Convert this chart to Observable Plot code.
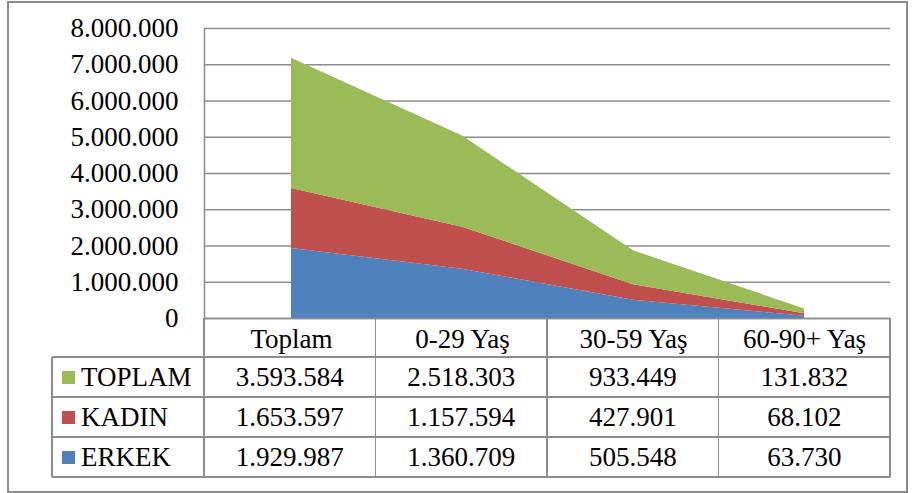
<!DOCTYPE html>
<html>
<head>
<meta charset="utf-8">
<script src="https://cdn.jsdelivr.net/npm/d3@7"></script>
<script src="https://cdn.jsdelivr.net/npm/@observablehq/plot@0.6"></script>
<style>
  html, body { margin: 0; padding: 0; background: #fff; }
  #wrap { position: relative; width: 913px; height: 493px; overflow: hidden; font-family: 'Liberation Serif'; }
  #outer { position: absolute; left: 7px; top: 1px; width: 897px; height: 488px; border: 2px solid #8c8c8c; box-sizing: content-box; }
  .hl, .vl { position: absolute; background: #8c8c8c; }
  .cell { position: absolute; display: flex; align-items: center; justify-content: center; font-size: 27px; color: #000; white-space: nowrap; font-family: 'Liberation Serif'; }
  .leg { justify-content: flex-start; }
  .sw { display: inline-block; width: 13px; height: 13px; margin-right: 6px; margin-left: 10px; }
  #chart { position: absolute; left: 0; top: 0; }
</style>
</head>
<body>
<div id="wrap">
<div id="outer"></div>
<script>
// ---- data ----
const categories = ["Toplam", "0-29 Yaş", "30-59 Yaş", "60-90+ Yaş"];
const tableSeries = ["TOPLAM", "KADIN", "ERKEK"];      // table row order
const stackOrder = ["ERKEK", "KADIN", "TOPLAM"];       // bottom to top
const toplamValues = [3593584, 2518303, 933449, 131832];
const kadinValues  = [1653597, 1157594, 427901, 68102];
const erkekValues  = [1929987, 1360709, 505548, 63730];
const yTicks = [0, 1000000, 2000000, 3000000, 4000000, 5000000, 6000000, 7000000, 8000000];
const seriesColors = ["#4F81BD", "#C0504D", "#9BBB59"]; // ERKEK, KADIN, TOPLAM

const valuesBySeries = { TOPLAM: toplamValues, KADIN: kadinValues, ERKEK: erkekValues };
const colorBySeries = { ERKEK: seriesColors[0], KADIN: seriesColors[1], TOPLAM: seriesColors[2] };

const rows = [];
for (const s of stackOrder) {
  categories.forEach((c, i) => rows.push({ series: s, category: c, value: valuesBySeries[s][i] }));
}

const locale = d3.formatLocale({ decimal: ",", thousands: ".", grouping: [3], currency: ["", ""] });
const fmt = locale.format(",d");

// ---- layout ----
const W = 913, H = 493;
const mLeft = 204, mRight = 23, mTop = 28, mBottom = 175;
const gridColor = "#8c8c8c";
const serif = "Liberation Serif";

const plot = Plot.plot({
  width: W, height: H,
  marginLeft: mLeft, marginRight: mRight, marginTop: mTop, marginBottom: mBottom,
  style: { background: "transparent", fontFamily: serif, fontSize: "27px", color: "#000", overflow: "visible" },
  x: { type: "point", domain: categories, padding: 0.5 },
  y: { domain: [0, 8000000] },
  color: { domain: stackOrder, range: seriesColors },
  marks: [
    Plot.gridY(yTicks, { stroke: gridColor, strokeOpacity: 1, strokeWidth: 1.5 }),
    Plot.areaY(rows, { x: "category", y: "value", z: "series", fill: "series", order: stackOrder, curve: "linear" }),
    Plot.axisY(yTicks, { tickSize: 0, tickPadding: 26, tickFormat: fmt, fontSize: 27, fontFamily: serif, label: null }),
    Plot.axisX({ tickSize: 0, tickPadding: 10, fontSize: 27, fontFamily: serif, label: null }),
    Plot.ruleY([0], { stroke: gridColor, strokeWidth: 1.5 }),
    Plot.frame({ anchor: "left", stroke: gridColor, strokeWidth: 1.5 })
  ]
});

// ---- data table under the axis (legend + values) ----
const plotRight = W - mRight;
const step = (plotRight - mLeft) / categories.length;
const bounds = [52, mLeft];
for (let i = 1; i <= categories.length; i++) bounds.push(mLeft + i * step);
const y0 = H - mBottom;            // axis line = table top
const headerH = 39, rowH = 40;
const rowTops = [y0 + headerH, y0 + headerH + rowH, y0 + headerH + 2 * rowH];
const tableBottom = y0 + headerH + 3 * rowH;
const lw = 1.5;

let html = "";
function add(cls, css, content) {
  const st = Object.entries(css).map(([k, v]) => `${k}:${v}`).join(";");
  html += `<div class="${cls}" style="${st}">${content || ""}</div>`;
}
[y0 + headerH, ...rowTops.slice(1), tableBottom].forEach(y => {
  add("hl", { left: bounds[0] + "px", top: (y - lw / 2) + "px", width: (bounds[bounds.length - 1] - bounds[0]) + "px", height: lw + "px" });
});
bounds.forEach((x, i) => {
  const top = i === 0 ? y0 + headerH : y0;
  add("vl", { left: (x - lw / 2) + "px", top: top + "px", width: lw + "px", height: (tableBottom - top) + "px" });
});
tableSeries.forEach((s, r) => {
  const top = rowTops[r];
  add("cell leg", { left: bounds[0] + "px", top: top + "px", width: (bounds[1] - bounds[0]) + "px", height: rowH + "px" },
    `<span class="sw" style="background:${colorBySeries[s]}"></span>${s}`);
  valuesBySeries[s].forEach((v, i) => {
    add("cell", { left: bounds[i + 1] + "px", top: top + "px", width: (bounds[i + 2] - bounds[i + 1]) + "px", height: rowH + "px" }, fmt(v));
  });
});

document.write('<div id="chart">' + plot.outerHTML + '</div>' + html);
</script>
</div>
</body>
</html>
